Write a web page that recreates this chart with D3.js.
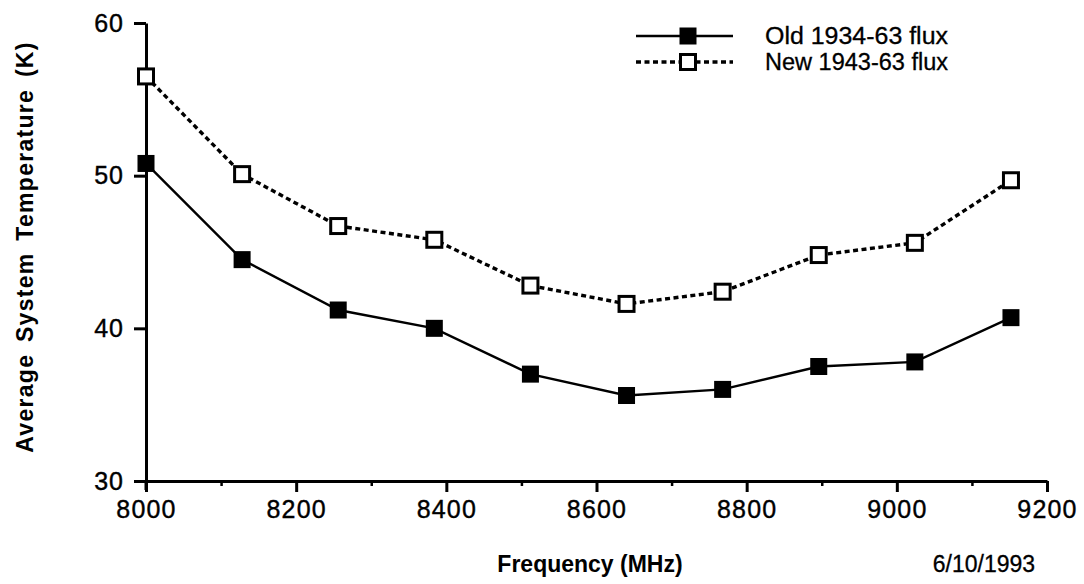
<!DOCTYPE html>
<html>
<head>
<meta charset="utf-8">
<script src="https://cdn.jsdelivr.net/npm/d3@7"></script>
<style>
  html, body { margin: 0; padding: 0; background: #fff; }
  svg { display: block; }
  text { font-family: "Liberation Sans", Arial, Helvetica, sans-serif; fill: #000; }
</style>
</head>
<body>
<svg id="chart" width="1084" height="584"></svg>
<script>
const frequencies = [8000, 8128, 8256, 8384, 8512, 8640, 8768, 8896, 9024, 9152];
const oldFlux = [50.8, 44.5, 41.2, 40.0, 37.0, 35.6, 36.0, 37.5, 37.8, 40.7];
const newFlux = [56.5, 50.1, 46.7, 45.8, 42.8, 41.6, 42.4, 44.8, 45.6, 49.7];
const xTicks = [8000, 8200, 8400, 8600, 8800, 9000, 9200];
const xMinorTicks = [8100, 8300, 8500, 8700, 8900, 9100];
const yTicks = [30, 40, 50, 60];
const seriesNames = ["Old 1934-63 flux", "New 1943-63 flux"];
const xTitle = "Frequency (MHz)";
const yTitle = "Average System Temperature (K)";
const dateLabel = "6/10/1993";

const svg = d3.select("#chart");
const x = d3.scaleLinear().domain([8000, 9200]).range([146, 1047]);
const y = d3.scaleLinear().domain([30, 60]).range([481, 23]);

// X axis (major ticks)
const xAxis = svg.append("g").attr("transform", `translate(0,${y(30)})`)
  .call(d3.axisBottom(x).tickValues(xTicks).tickFormat(d3.format("d")).tickSize(11).tickPadding(8).tickSizeOuter(0));
xAxis.select(".domain").attr("stroke", "#000").attr("stroke-width", 3);
xAxis.selectAll(".tick line").attr("stroke", "#000").attr("stroke-width", 3);
xAxis.selectAll(".tick text").attr("font-size", 25).attr("letter-spacing", 1.2)
  .attr("stroke", "#000").attr("stroke-width", 0.4)
  .attr("font-family", "Liberation Sans, Arial, sans-serif");

// X minor ticks
const xMinor = svg.append("g").attr("transform", `translate(0,${y(30)})`)
  .call(d3.axisBottom(x).tickValues(xMinorTicks).tickFormat("").tickSize(5).tickSizeOuter(0));
xMinor.select(".domain").remove();
xMinor.selectAll(".tick line").attr("stroke", "#000").attr("stroke-width", 2.5);

// Y axis
const yAxis = svg.append("g").attr("transform", `translate(${x(8000)},0)`)
  .call(d3.axisLeft(y).tickValues(yTicks).tickFormat(d3.format("d")).tickSize(12).tickPadding(10).tickSizeOuter(0));
yAxis.select(".domain").attr("stroke", "#000").attr("stroke-width", 3);
yAxis.selectAll(".tick line").attr("stroke", "#000").attr("stroke-width", 3);
yAxis.selectAll(".tick text").attr("font-size", 25).attr("letter-spacing", 1)
  .attr("stroke", "#000").attr("stroke-width", 0.4)
  .attr("font-family", "Liberation Sans, Arial, sans-serif");
// small extension of y axis below x axis
svg.append("line").attr("x1", x(8000)).attr("x2", x(8000)).attr("y1", y(30)).attr("y2", y(30) + 9)
  .attr("stroke", "#000").attr("stroke-width", 3);

// Lines
const line = d3.line().x((d, i) => x(frequencies[i])).y(d => y(d));
svg.append("path").datum(oldFlux).attr("d", line)
  .attr("fill", "none").attr("stroke", "#000").attr("stroke-width", 2.4);
svg.append("path").datum(newFlux).attr("d", line)
  .attr("fill", "none").attr("stroke", "#000").attr("stroke-width", 3.4).attr("stroke-dasharray", "5,3.5");

const ms = 17;
// Old markers: filled squares
svg.append("g").selectAll("rect").data(oldFlux).join("rect")
  .attr("x", (d, i) => x(frequencies[i]) - ms / 2).attr("y", d => y(d) - ms / 2)
  .attr("width", ms).attr("height", ms).attr("fill", "#000");
// New markers: open squares
const os = 15;
svg.append("g").selectAll("rect").data(newFlux).join("rect")
  .attr("x", (d, i) => x(frequencies[i]) - os / 2).attr("y", d => y(d) - os / 2)
  .attr("width", os).attr("height", os).attr("fill", "#fff").attr("stroke", "#000").attr("stroke-width", 3);

// Legend
const leg = svg.append("g");
const legRows = [36, 62];
leg.append("line").attr("x1", 636).attr("x2", 733).attr("y1", legRows[0]).attr("y2", legRows[0])
  .attr("stroke", "#000").attr("stroke-width", 2.4);
leg.append("rect").attr("x", 688 - ms / 2).attr("y", legRows[0] - ms / 2).attr("width", ms).attr("height", ms).attr("fill", "#000");
leg.append("line").attr("x1", 636).attr("x2", 733).attr("y1", legRows[1]).attr("y2", legRows[1])
  .attr("stroke", "#000").attr("stroke-width", 3.4).attr("stroke-dasharray", "5,3.5");
leg.append("rect").attr("x", 688 - os / 2).attr("y", legRows[1] - os / 2).attr("width", os).attr("height", os)
  .attr("fill", "#fff").attr("stroke", "#000").attr("stroke-width", 3);
leg.selectAll("text.lt").data(seriesNames).join("text").attr("class", "lt")
  .attr("x", 765).attr("y", (d, i) => legRows[i]).attr("dy", "0.36em")
  .attr("font-size", 23).attr("textLength", 183).attr("lengthAdjust", "spacingAndGlyphs")
  .attr("stroke", "#000").attr("stroke-width", 0.3).text(d => d);

// Axis titles
svg.append("text").attr("x", 590).attr("y", 572).attr("text-anchor", "middle")
  .attr("font-size", 23).attr("font-weight", "bold").text(xTitle);
svg.append("text").attr("x", 984).attr("y", 572).attr("text-anchor", "middle")
  .attr("font-size", 23).attr("stroke", "#000").attr("stroke-width", 0.3).text(dateLabel);
svg.append("text").attr("transform", `translate(33,${247}) rotate(-90)`).attr("text-anchor", "middle")
  .attr("font-size", 23).attr("font-weight", "bold")
  .attr("letter-spacing", 1.3).attr("word-spacing", 4).text(yTitle);
</script>
</body>
</html>
